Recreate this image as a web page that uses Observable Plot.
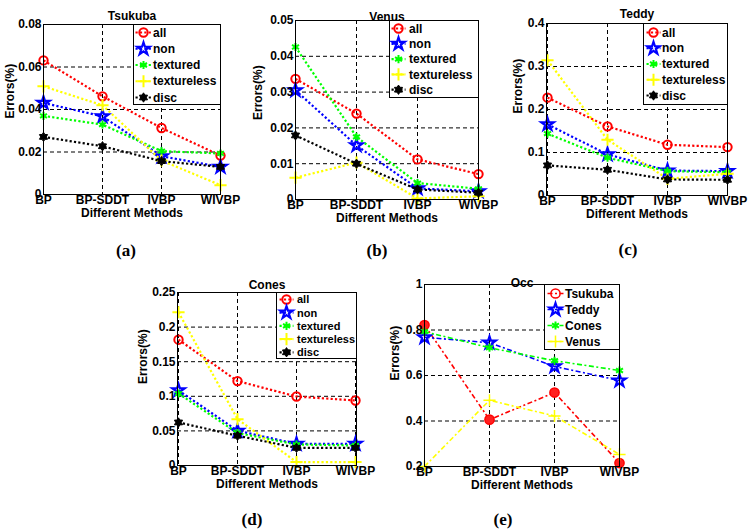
<!DOCTYPE html>
<html>
<head>
<meta charset="utf-8">
<script src="https://cdn.jsdelivr.net/npm/d3@7"></script>
<script src="https://cdn.jsdelivr.net/npm/@observablehq/plot@0.6"></script>
<style>
  html, body { margin: 0; padding: 0; background: #fff; }
  #page { position: relative; width: 752px; height: 530px; overflow: hidden;
          font-family: "Liberation Sans", Arial, sans-serif; }
  .panel, .legend { position: absolute; }
  .legend { overflow: visible; }
  .tag { position: absolute; transform: translate(-50%, -50%);
         font-family: "Liberation Serif", "Times New Roman", serif;
         font-weight: bold; font-size: 17px; line-height: 1; }
</style>
</head>
<body>
<div id="page"></div>
<script>
// Stereo matching methods compared on the x axis
const methods = ["BP", "BP-SDDT", "IVBP", "WIVBP"];

// Region series (error rate per region type)
const regionSeries = ["all", "non", "textured", "textureless", "disc"];
// Occluded-region series (one per image pair)
const occSeries = ["Tsukuba", "Teddy", "Cones", "Venus"];

// Error values, one value per method
const tsukuba = {
  all:         [0.0631, 0.0462, 0.0313, 0.0183],
  non:         [0.0431, 0.0368, 0.0180, 0.0130],
  textured:    [0.0370, 0.0329, 0.0204, 0.0193],
  textureless: [0.0509, 0.0420, 0.0160, 0.0044],
  disc:        [0.0271, 0.0227, 0.0157, 0.0130]
};
const venus = {
  all:         [0.0337, 0.0240, 0.0112, 0.0071],
  non:         [0.0305, 0.0151, 0.0031, 0.0023],
  textured:    [0.0426, 0.0175, 0.0046, 0.0030],
  textureless: [0.0061, 0.0103, 0.0003, 0.0009],
  disc:        [0.0179, 0.0100, 0.0028, 0.0019]
};
const teddy = {
  all:         [0.2276, 0.1608, 0.1180, 0.1126],
  non:         [0.1654, 0.0955, 0.0580, 0.0567],
  textured:    [0.1437, 0.0878, 0.0567, 0.0540],
  textureless: [0.3146, 0.1297, 0.0388, 0.0505],
  disc:        [0.0700, 0.0598, 0.0373, 0.0365]
};
const cones = {
  all:         [0.1818, 0.1220, 0.0997, 0.0939],
  non:         [0.1086, 0.0502, 0.0313, 0.0313],
  textured:    [0.1040, 0.0470, 0.0303, 0.0290],
  textureless: [0.2215, 0.0670, 0.0050, 0.0050],
  disc:        [0.0622, 0.0430, 0.0255, 0.0255]
};
const occ = {
  Tsukuba: [0.822, 0.406, 0.525, 0.215],
  Teddy:   [0.768, 0.744, 0.640, 0.578],
  Cones:   [0.793, 0.722, 0.665, 0.622],
  Venus:   [0.200, 0.491, 0.422, 0.253]
};

// Y tick values for each panel
const tsukubaTicks = [0, 0.02, 0.04, 0.06, 0.08];
const venusTicks   = [0, 0.01, 0.02, 0.03, 0.04, 0.05];
const teddyTicks   = [0, 0.1, 0.2, 0.3, 0.4];
const conesTicks   = [0, 0.05, 0.1, 0.15, 0.2, 0.25];
const occTicks     = [0.2, 0.4, 0.6, 0.8, 1];

// Filled six-pointed star marker
const hexagram = {
  draw(ctx, size) {
    const R = Math.sqrt(size / Math.PI) * 1.3, r = R * 0.6;
    for (let i = 0; i < 12; ++i) {
      const a = i * Math.PI / 6 - Math.PI / 2, k = i % 2 ? r : R;
      const px = k * Math.cos(a), py = k * Math.sin(a);
      i ? ctx.lineTo(px, py) : ctx.moveTo(px, py);
    }
    ctx.closePath();
  }
};

const FONT = "'Liberation Sans', Arial, Helvetica, sans-serif";
const GRID_DASH = "4 3";

const regionStyle = {
  all:         {color: "#ff0000", symbol: "circle",   fill: "none",    r: 4.2, sw: 2},
  non:         {color: "#0000ff", symbol: "star",     fill: "none",    r: 3.9, sw: 2.2},
  textured:    {color: "#00ff00", symbol: "asterisk", fill: "none",    r: 3.8, sw: 2},
  textureless: {color: "#ffff00", symbol: "plus",     fill: "none",    r: 4.0, sw: 2},
  disc:        {color: "#000000", symbol: hexagram,   fill: "#000000", r: 3.6, sw: 1}
};
const occStyle = {
  Tsukuba: {color: "#ff0000", symbol: "circle",   fill: "#ff2020", r: 4.6, sw: 1.5, legendFill: "none"},
  Teddy:   {color: "#0000ff", symbol: "star",     fill: "none",    r: 3.9, sw: 2.2},
  Cones:   {color: "#00ff00", symbol: "asterisk", fill: "none",    r: 3.8, sw: 2},
  Venus:   {color: "#ffff00", symbol: "plus",     fill: "none",    r: 4.0, sw: 1.5}
};

const panels = [
  {title: "Tsukuba", tag: "(a)", values: tsukuba, series: regionSeries, style: regionStyle,
   ticks: tsukubaTicks, domain: [0, 0.08], dash: "2.2 2.2", lineWidth: 2.2,
   svg: {left: 0, top: 0, width: 240, height: 235},
   margin: {left: 43, top: 24, right: 20, bottom: 41},
   titleDy: -13, yLabelDx: -33, yLabelDy: 9,
   legend: {x: 133, y: 24, w: 87, h: 80, row0: 32, step: 16.25, mx: 143, half: 8, tx: 153, fs: 12},
   tagPos: [126, 250]},
  {title: "Venus", tag: "(b)", values: venus, series: regionSeries, style: regionStyle,
   ticks: venusTicks, domain: [0, 0.05], dash: "2.2 2.2", lineWidth: 2.2,
   svg: {left: 250, top: 0, width: 250, height: 235},
   margin: {left: 45, top: 20, right: 22, bottom: 36},
   titleDy: -8, yLabelDx: -37, yLabelDy: 10,
   legend: {x: 389, y: 20, w: 89, h: 77, row0: 28, step: 15.3, mx: 398, half: 7, tx: 409, fs: 12},
   tagPos: [377, 250]},
  {title: "Teddy", tag: "(c)", values: teddy, series: regionSeries, style: regionStyle,
   ticks: teddyTicks, domain: [0, 0.4], dash: "2.2 2.2", lineWidth: 2.2,
   svg: {left: 500, top: 0, width: 252, height: 235},
   margin: {left: 46, top: 23, right: 25, bottom: 40},
   titleDy: -14, yLabelDx: -28, yLabelDy: 4,
   legend: {x: 643, y: 23, w: 84, h: 81, row0: 32, step: 15.75, mx: 653, half: 7, tx: 662, fs: 12},
   tagPos: [628, 249]},
  {title: "Cones", tag: "(d)", values: cones, series: regionSeries, style: regionStyle,
   ticks: conesTicks, domain: [0, 0.25], dash: "2.2 2.2", lineWidth: 2.2,
   svg: {left: 125, top: 262, width: 250, height: 240},
   margin: {left: 52, top: 30, right: 19, bottom: 37},
   titleDy: -12, yLabelDx: -34, yLabelDy: 5,
   legend: {x: 276, y: 292, w: 80, h: 66, row0: 299, step: 13.2, mx: 286, half: 7, tx: 297, fs: 11},
   tagPos: [252, 519]},
  {title: "Occ", tag: "(e)", values: occ, series: occSeries, style: occStyle,
   ticks: occTicks, domain: [0.2, 1], dash: "5 2.5 2 2.5", lineWidth: 1.6,
   svg: {left: 380, top: 262, width: 260, height: 240},
   margin: {left: 44, top: 22, right: 21, bottom: 36},
   titleDy: -6, yLabelDx: -29, yLabelDy: 5,
   legend: {x: 544, y: 284, w: 75, h: 65, row0: 293, step: 16, mx: 555, half: 8, tx: 565, fs: 12},
   tagPos: [503, 519]}
];

const page = document.getElementById("page");

for (const p of panels) {
  const rows = p.series.flatMap(s => p.values[s].map((v, i) => ({series: s, method: methods[i], value: v})));
  const seriesMarks = p.series.flatMap(s => {
    const st = p.style[s];
    const d = rows.filter(r => r.series === s);
    return [
      Plot.line(d, {x: "method", y: "value", stroke: st.color, strokeWidth: p.lineWidth,
                    strokeDasharray: p.dash, strokeLinecap: "butt"}),
      Plot.dot(d, {x: "method", y: "value", symbol: st.symbol, r: st.r, stroke: st.color,
                   fill: st.fill, strokeWidth: st.sw})
    ];
  });

  const chart = Plot.plot({
    width: p.svg.width,
    height: p.svg.height,
    marginLeft: p.margin.left,
    marginTop: p.margin.top,
    marginRight: p.margin.right,
    marginBottom: p.margin.bottom,
    style: {fontFamily: FONT, fontSize: "12px", background: "transparent", overflow: "visible"},
    x: {type: "point", domain: methods, padding: 0, axis: null},
    y: {domain: p.domain, axis: null},
    marks: [
      Plot.ruleY(p.ticks, {y: d => d, stroke: "#000", strokeWidth: 1, strokeDasharray: GRID_DASH}),
      Plot.ruleX(methods, {x: d => d, stroke: "#000", strokeWidth: 1, strokeDasharray: GRID_DASH}),
      ...seriesMarks,
      Plot.frame({stroke: "#000", strokeWidth: 1}),
      Plot.text(p.ticks, {y: d => d, text: d => String(d), frameAnchor: "left", textAnchor: "end",
                          dx: -2, fontWeight: "bold", fontSize: 12, fill: "#000"}),
      Plot.text(methods, {x: d => d, text: d => d, frameAnchor: "bottom", dy: 9,
                          fontWeight: "bold", fontSize: 12, fill: "#000"}),
      Plot.text([p.title], {text: d => d, frameAnchor: "top", dy: p.titleDy,
                            fontWeight: "bold", fontSize: 12, fill: "#000"}),
      Plot.text(["Different Methods"], {text: d => d, frameAnchor: "bottom", dy: 22,
                                        fontWeight: "bold", fontSize: 12, fill: "#000"}),
      Plot.text(["Errors(%)"], {text: d => d, frameAnchor: "left", rotate: -90,
                                dx: p.yLabelDx, dy: p.yLabelDy,
                                fontWeight: "bold", fontSize: 12, fill: "#000"})
    ]
  });

  // make sure dash patterns are written as attributes on the drawn paths
  d3.select(chart).selectAll("g[stroke-dasharray]").each(function () {
    const dash = this.getAttribute("stroke-dasharray");
    d3.select(this).selectAll("path, line").attr("stroke-dasharray", dash);
  });

  const holder = document.createElement("div");
  holder.className = "panel";
  holder.style.left = p.svg.left + "px";
  holder.style.top = p.svg.top + "px";
  holder.appendChild(chart);
  page.appendChild(holder);

  // Legend box drawn over the plot frame
  const L = p.legend;
  const lg = d3.select(page).append("svg").attr("class", "legend")
    .attr("width", L.w + 1).attr("height", L.h + 1)
    .style("left", (L.x - 0.5) + "px").style("top", (L.y - 0.5) + "px");
  lg.append("rect").attr("x", 0.5).attr("y", 0.5).attr("width", L.w).attr("height", L.h)
    .attr("fill", "#fff").attr("stroke", "#000");
  p.series.forEach((s, i) => {
    const st = p.style[s];
    const cy = L.row0 + i * L.step - L.y + 0.5;
    const cx = L.mx - L.x + 0.5;
    lg.append("line").attr("x1", cx - L.half).attr("x2", cx + L.half).attr("y1", cy).attr("y2", cy)
      .attr("stroke", st.color).attr("stroke-width", p.lineWidth).attr("stroke-dasharray", p.dash);
    const type = typeof st.symbol === "string"
      ? ({circle: d3.symbolCircle, star: d3.symbolStar, asterisk: d3.symbolAsterisk, plus: d3.symbolPlus})[st.symbol]
      : st.symbol;
    lg.append("path").attr("transform", `translate(${cx},${cy})`)
      .attr("d", d3.symbol(type, st.r * st.r * Math.PI)())
      .attr("fill", st.legendFill ?? st.fill).attr("stroke", st.color).attr("stroke-width", st.sw);
    lg.append("text").attr("x", L.tx - L.x).attr("y", cy).attr("dy", "0.35em")
      .attr("font-family", FONT).attr("font-weight", "bold").attr("font-size", L.fs)
      .text(s);
  });

  const tag = document.createElement("div");
  tag.className = "tag";
  tag.style.left = p.tagPos[0] + "px";
  tag.style.top = p.tagPos[1] + "px";
  tag.textContent = p.tag;
  page.appendChild(tag);
}
</script>
</body>
</html>
